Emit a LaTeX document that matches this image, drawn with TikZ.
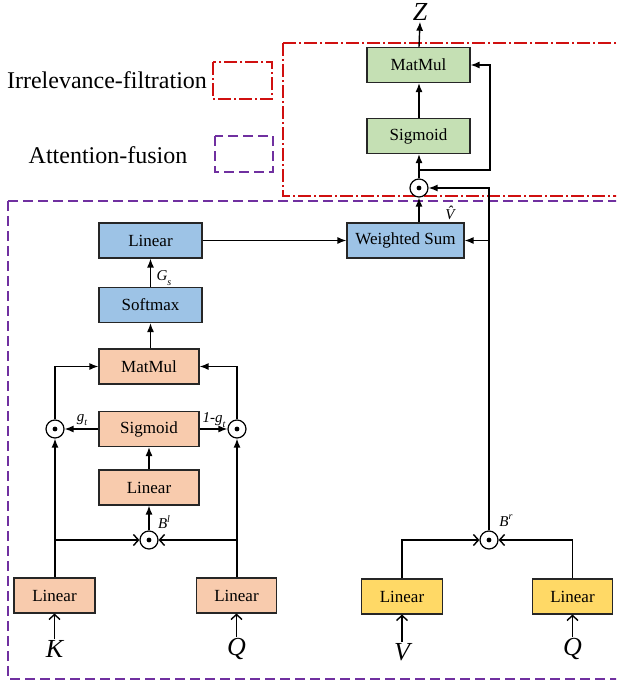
\documentclass[tikz,border=0pt]{standalone}
\usepackage{fontspec}
\setmainfont{Liberation Serif}
\usetikzlibrary{arrows.meta,calc}
\definecolor{cgreen}{HTML}{C5E0B4}
\definecolor{cblue}{HTML}{9DC3E6}
\definecolor{corange}{HTML}{F8CBAD}
\definecolor{cyellow}{HTML}{FFD966}
\definecolor{cred}{HTML}{D01010}
\definecolor{cpurple}{HTML}{7030A0}
\newcommand\mysub[2]{\textit{#1}\raisebox{-0.3em}{\fontsize{10}{10}\selectfont\textit{#2}}}
\newcommand\mysup[2]{\textit{#1}\raisebox{0.45em}{\fontsize{10}{10}\selectfont\textit{#2}}}
\begin{document}
\begin{tikzpicture}[x=1pt,y=-1pt,
  blk/.style={draw=black!85, line width=1.1pt, minimum height=35pt, inner sep=0pt, font=\fontsize{17}{17}\selectfont},
  odot/.style={circle, draw, line width=1.2pt, minimum size=18pt, inner sep=0pt, fill=white,
     path picture={\fill[black] (path picture bounding box.center) circle (2.4pt);}},
  arr/.style={-{Latex[length=9pt,width=7pt]}, line width=1.4pt},
  oarr/.style={-{Straight Barb[length=5pt,width=11pt]}, line width=1.4pt},
  big/.style={font=\fontsize{26}{26}\selectfont\itshape, inner sep=1pt},
  lbl/.style={font=\fontsize{15}{15}\selectfont, inner sep=0pt},
  leg/.style={font=\fontsize{24}{24}\selectfont, inner sep=0pt}]
\path[use as bounding box] (0,0) rectangle (616,685);
\clip (0,0) rectangle (616,685);
% frames
\draw[cpurple, line width=1.3pt, dash pattern=on 10pt off 5pt] (8,201) rectangle (630,679);
\draw[cred, line width=1.3pt, dash pattern=on 13pt off 3pt on 2pt off 3pt] (283,43) rectangle (630,196);
% legend
\node[leg] (legA) at (107,80) {Irrelevance-filtration};
\node[leg] (legB) at (108,155) {Attention-fusion};
\draw[cred, line width=1.3pt, dash pattern=on 13pt off 3pt on 2pt off 3pt] (213,62) rectangle (272,99);
\draw[cpurple, line width=1.3pt, dash pattern=on 10pt off 5pt] (215,136) rectangle (273,172);
% green part
\node[big] (Z) at (420,12) {Z};
\node[blk, fill=cgreen, minimum width=103pt] (gMat) at (418.5,65) {MatMul};
\node[blk, fill=cgreen, minimum width=103pt] (gSig) at (418.5,136) {Sigmoid};
\node[odot] (tod) at (419,188) {};
\node[blk, fill=cblue, minimum width=117pt] (ws) at (405.5,240.5) {Weighted Sum};
\draw[arr] (gMat.north -| tod) -- (Z.south);
\draw[arr] (gSig.north -| tod) -- (gMat.south -| tod);
\draw[arr] (tod.north) -- (gSig.south -| tod);
\coordinate (fb1) at (419,170);
\coordinate (fb2) at (490,170);
\draw[arr] (fb1) -- (fb2) |- (gMat.east);
\draw[arr] (ws.north -| tod) -- (tod.south);
\node[lbl, font=\fontsize{15}{15}\selectfont\itshape] (vhat) at (450,213) {\^{V}};
% left attention part
\node[blk, fill=cblue, minimum width=103pt] (bLin) at (150.5,240.5) {Linear};
\node[blk, fill=cblue, minimum width=103pt] (soft) at (150.5,305) {Softmax};
\node[blk, fill=corange, minimum width=100pt] (oMat) at (149,366.5) {MatMul};
\node[blk, fill=corange, minimum width=100pt] (oSig) at (149,429) {Sigmoid};
\node[blk, fill=corange, minimum width=100pt] (oLin) at (149,487.5) {Linear};
\node[odot] (lod) at (55,429) {};
\node[odot] (rod) at (237,429) {};
\node[odot] (bod) at (149,540) {};
\node[blk, fill=corange, minimum width=81pt] (kLin) at (54.5,595.5) {Linear};
\node[blk, fill=corange, minimum width=80pt] (qLin) at (236.5,595.5) {Linear};
\node[big] (K) at (54.5,649) {K};
\node[big] (Q) at (236.5,649) {Q};
\draw[arr] (bLin.east) -- (ws.west);
\draw[arr] (soft.north) -- (bLin.south);
\draw[arr] (soft.south |- oMat.north) -- (soft.south);
\draw[arr] (lod.north) |- (oMat.west);
\draw[arr] (rod.north) |- (oMat.east);
\draw[arr] (oSig.west) -- (lod.east);
\draw[arr] (oSig.east) -- (rod.west);
\draw[arr] (oLin.north) -- (oSig.south);
\draw[arr] (bod.north) -- (oLin.south);
\draw[arr] (kLin.north -| lod) -- (lod.south);
\draw[arr] (qLin.north -| rod) -- (rod.south);
\draw[oarr] (lod |- bod) -- (bod.west);
\draw[oarr] (rod |- bod) -- (bod.east);
\draw[oarr] (K.north) -- (kLin.south);
\draw[oarr] (Q.north) -- (qLin.south);
\node[lbl, font=\fontsize{15}{15}\selectfont] (Gs) at (164,278) {\mysub{G}{s}};
\node[lbl, font=\fontsize{15}{15}\selectfont] (gt) at (82,420) {\mysub{g}{t}};
\node[lbl, font=\fontsize{15}{15}\selectfont] (omgt) at (214,420) {\textit{1-}\mysub{g}{t}};
\node[lbl, font=\fontsize{15}{15}\selectfont] (Bl) at (164,522) {\mysup{B}{l}};
% right inputs
\node[odot] (rbod) at (489,540) {};
\node[blk, fill=cyellow, minimum width=81pt] (vLin) at (402,596.5) {Linear};
\node[blk, fill=cyellow, minimum width=80pt] (q2Lin) at (572.5,596.5) {Linear};
\node[big] (V) at (402,652) {V};
\node[big] (Q2) at (572.5,649) {Q};
\draw[oarr] (vLin.north) |- (rbod.west);
\draw[oarr] (q2Lin.north) |- (rbod.east);
\draw[oarr] (V.north) -- (vLin.south);
\draw[oarr] (Q2.north) -- (q2Lin.south);
\draw[arr] (rbod.north) |- (tod.east);
\draw[arr] (rbod |- ws.east) -- (ws.east);
\node[lbl, font=\fontsize{15}{15}\selectfont] (Br) at (506,521) {\mysup{B}{r}};
\end{tikzpicture}
\end{document}
